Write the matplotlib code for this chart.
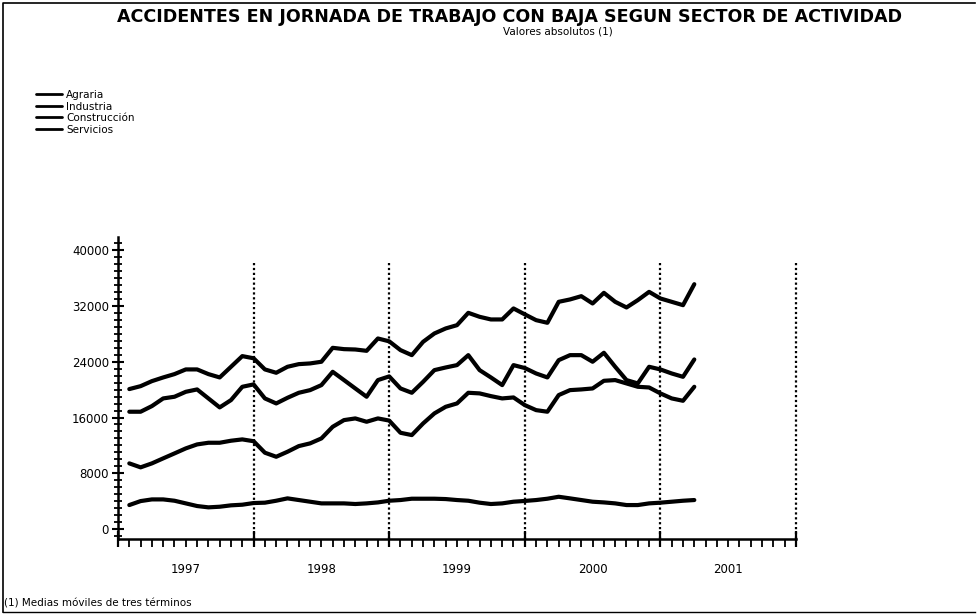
import numpy as np
import matplotlib
matplotlib.use("Agg")
import matplotlib.pyplot as plt
from matplotlib.ticker import MultipleLocator, FixedLocator, NullFormatter

# monthly moving averages, Feb 1997 .. Apr 2001 (month index from Jan 1997)
months = np.arange(1, 52)

agraria = [3440, 4010, 4250, 4250, 4060, 3680, 3300, 3110, 3200, 3400, 3490, 3730,
           3780, 4060, 4400, 4160, 3920, 3680, 3680, 3680, 3590, 3680, 3820, 4060,
           4160, 4350, 4350, 4350, 4300, 4160, 4060, 3780, 3590, 3680, 3920, 4030,
           4160, 4350, 4630, 4400, 4160, 3920, 3820, 3680, 3440, 3440, 3680, 3780,
           3920, 4060, 4160]
industria = [16830, 16830, 17640, 18740, 18980, 19690, 20030, 18740, 17450, 18500, 20410, 20750,
             18740, 18020, 18830, 19550, 19930, 20650, 22560, 21370, 20170, 18980, 21370, 21900,
             20170, 19550, 21120, 22800, 23180, 23520, 24950, 22800, 21750, 20650, 23520, 23100,
             22320, 21750, 24230, 24950, 24950, 24000, 25290, 23280, 21370, 20890, 23280, 22900,
             22320, 21840, 24330]
construccion = [9420, 8850, 9420, 10140, 10850, 11570, 12140, 12380, 12380, 12670, 12860, 12600,
                10950, 10370, 11090, 11900, 12290, 13000, 14670, 15630, 15870, 15390, 15870, 15560,
                13810, 13480, 15150, 16590, 17540, 18020, 19550, 19460, 19070, 18740, 18880, 17780,
                17060, 16830, 19220, 19930, 20030, 20170, 21270, 21370, 20890, 20410, 20310, 19460,
                18740, 18400, 20410]
servicios = [20080, 20500, 21220, 21750, 22230, 22900, 22900, 22230, 21750, 23280, 24810, 24500,
             22900, 22420, 23280, 23660, 23760, 24000, 26000, 25810, 25760, 25570, 27340, 26930,
             25670, 24950, 26860, 28060, 28780, 29250, 31020, 30450, 30070, 30070, 31650, 30800,
             29970, 29590, 32600, 32940, 33410, 32360, 33890, 32600, 31790, 32840, 34030, 33080,
             32600, 32120, 35130]

series = [("Agraria", agraria), ("Industria", industria),
          ("Construcción", construccion), ("Servicios", servicios)]
years = ["1997", "1998", "1999", "2000", "2001"]
yticks = [0, 8000, 16000, 24000, 32000, 40000]

fig = plt.figure(figsize=(9.78, 6.16), dpi=100)
ax = fig.add_axes([118 / 978, 77 / 616, 678 / 978, 302 / 616])

for name, vals in series:
    ax.plot(months, vals, color="black", lw=3.0, solid_capstyle="round", label=name)

# year separators
for m in [12, 24, 36, 48, 60]:
    ax.plot([m, m], [-1430, 38400], color="black", lw=1.6, ls=(0, (1, 1.2)), clip_on=False)

ax.set_xlim(0, 60)
ax.set_ylim(-1430, 41900)
for s in ["top", "right"]:
    ax.spines[s].set_visible(False)
for s in ["left", "bottom"]:
    ax.spines[s].set_linewidth(1.8)

ax.yaxis.set_major_locator(FixedLocator(yticks))
ax.yaxis.set_minor_locator(MultipleLocator(1000))
ax.set_yticklabels([str(v) for v in yticks], fontsize=8.5)
ax.tick_params(axis="y", which="major", direction="inout", length=9, width=1.5, pad=2)
ax.tick_params(axis="y", which="minor", direction="inout", length=6, width=1.3)

ax.xaxis.set_major_locator(MultipleLocator(12))
ax.xaxis.set_minor_locator(MultipleLocator(1))
ax.xaxis.set_major_formatter(NullFormatter())
ax.tick_params(axis="x", which="major", direction="inout", length=12, width=1.6)
ax.tick_params(axis="x", which="minor", direction="out", length=6, width=1.3)
for i, y in enumerate(years):
    ax.text(6 + 12 * i, -0.1, y, transform=ax.get_xaxis_transform(),
            ha="center", va="center", fontsize=8.5)

fig.text(510 / 978, 1 - 17 / 616, "ACCIDENTES EN JORNADA DE TRABAJO CON BAJA SEGUN SECTOR DE ACTIVIDAD",
         ha="center", va="center", fontsize=12.6, fontweight="bold")
fig.text(558 / 978, 1 - 32 / 616, "Valores absolutos (1)", ha="center", va="center", fontsize=7.5)
fig.text(4 / 978, 1 - 603 / 616, "(1) Medias móviles de tres términos", ha="left", va="center", fontsize=7.5)

ax.legend(loc="upper left", bbox_to_anchor=(36 / 978, 1 - 90 / 616), bbox_transform=fig.transFigure,
          frameon=False, fontsize=7.5, handlelength=2.5, handletextpad=0.4, labelspacing=0.15,
          borderpad=0, borderaxespad=0)
for line in ax.get_legend().get_lines():
    line.set_linewidth(2.0)

# scanned page frame
fig.add_artist(plt.Line2D([3 / 978, 3 / 978, 975 / 978], [1 - 612 / 616, 1 - 3 / 616, 1 - 3 / 616],
                          transform=fig.transFigure, color="black", lw=1.2))
fig.add_artist(plt.Line2D([3 / 978, 975 / 978], [1 - 612 / 616, 1 - 612 / 616],
                          transform=fig.transFigure, color="black", lw=1.0))

fig.savefig("out.png", dpi=100)
